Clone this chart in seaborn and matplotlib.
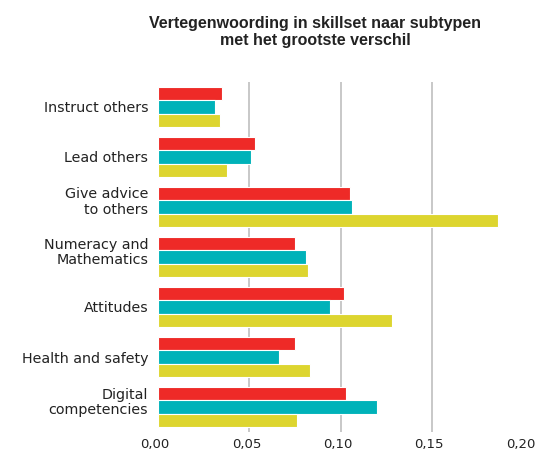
import matplotlib
matplotlib.use("Agg")
import matplotlib.pyplot as plt
import matplotlib.transforms as mtrans
import seaborn as sns
import pandas as pd
from matplotlib.ticker import FuncFormatter, FixedLocator

categories = ["Instruct others", "Lead others", "Give advice\nto others",
              "Numeracy and\nMathematics", "Attitudes", "Health and safety",
              "Digital\ncompetencies"]
series_names = ["Reeks 1", "Reeks 2", "Reeks 3"]
red_vals = [0.035, 0.053, 0.105, 0.075, 0.102, 0.075, 0.103]
teal_vals = [0.031, 0.051, 0.106, 0.081, 0.094, 0.066, 0.120]
yellow_vals = [0.034, 0.038, 0.186, 0.082, 0.128, 0.083, 0.076]
xticks = [0.0, 0.05, 0.10, 0.15, 0.20]
title = "Vertegenwoording in skillset naar subtypen\nmet het grootste verschil"

colors = ["#EE2A27", "#00B2B9", "#DDD52F"]

rows = []
for name, vals in zip(series_names, [red_vals, teal_vals, yellow_vals]):
    for c, v in zip(categories, vals):
        rows.append({"cat": c, "series": name, "value": v})
df = pd.DataFrame(rows)

sns.set_style("white")
plt.rcParams['font.family'] = ['DejaVu Sans']

fig = plt.figure(figsize=(5.36, 4.5), dpi=100)
ax = fig.add_axes([158/536, 1 - 432/450, (523.4 - 158)/536, (432 - 82)/450])

sns.barplot(data=df, y="cat", x="value", hue="series", order=categories,
            hue_order=series_names, palette=colors, orient="h", ax=ax,
            width=0.8, edgecolor="white", linewidth=0.8, legend=False,
            saturation=1, errorbar=None)

ax.set_xlim(0, 0.20)
ax.set_ylim(6.5, -0.5)
ax.xaxis.set_major_locator(FixedLocator(xticks))
ax.xaxis.set_major_formatter(FuncFormatter(lambda v, p: f"{v:.2f}".replace(".", ",")))
ax.set_xlabel("")
ax.set_ylabel("")
for s in ax.spines.values():
    s.set_visible(False)
ax.set_axisbelow(True)
for g in xticks[1:4]:
    ax.axvline(g, color="#c4c4c4", lw=1.3, zorder=0)
ax.tick_params(axis="both", length=0, colors="#222222")
ax.tick_params(axis="x", pad=4, labelsize=9.5)
ax.tick_params(axis="y", pad=7, labelsize=10.3)

dx = mtrans.ScaledTranslation(-3/100, 0, fig.dpi_scale_trans)
for lab in ax.get_xticklabels():
    lab.set_transform(lab.get_transform() + dx)
dy = mtrans.ScaledTranslation(0, 7/100, fig.dpi_scale_trans)
for lab in ax.get_yticklabels():
    lab.set_linespacing(1.12)
    if "\n" in lab.get_text():
        lab.set_transform(lab.get_transform() + dy)

fig.text(315/536, 1 - 32/450, title, ha="center", va="center",
         fontsize=11.5, fontweight="bold", family="Liberation Sans",
         color="#222222", linespacing=1.2)

fig.savefig("out.png", dpi=100)
